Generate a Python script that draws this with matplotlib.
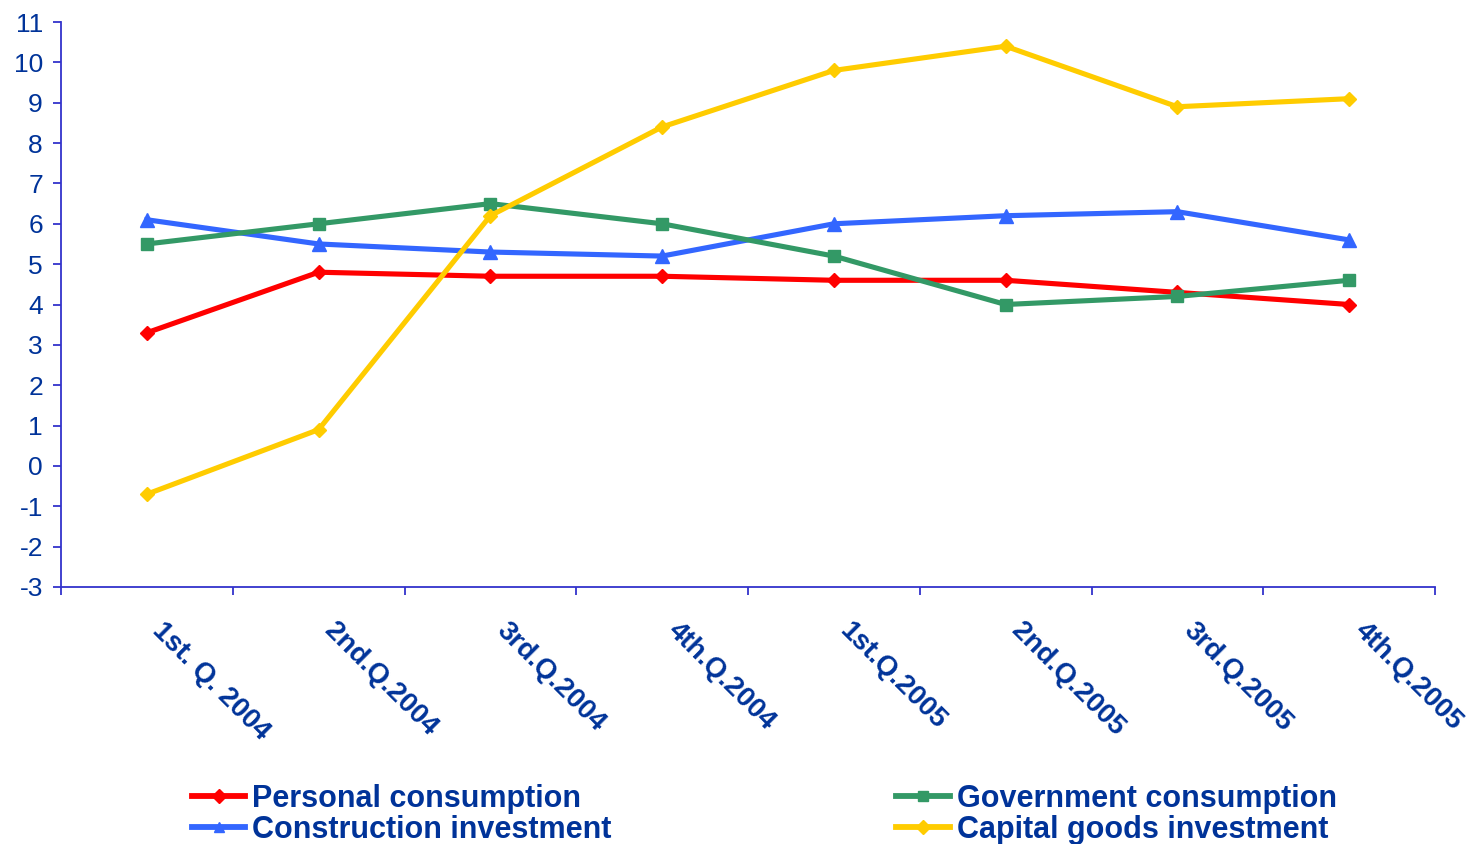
import matplotlib
matplotlib.use("Agg")
import matplotlib.pyplot as plt
import matplotlib.transforms as mtransforms
import numpy as np

categories = ["1st. Q. 2004", "2nd.Q.2004", "3rd.Q.2004", "4th.Q.2004",
              "1st.Q.2005", "2nd.Q.2005", "3rd.Q.2005", "4th.Q.2005"]
personal = [3.3, 4.8, 4.7, 4.7, 4.6, 4.6, 4.3, 4.0]
government = [5.5, 6.0, 6.5, 6.0, 5.2, 4.0, 4.2, 4.6]
construction = [6.1, 5.5, 5.3, 5.2, 6.0, 6.2, 6.3, 5.6]
capital = [-0.7, 0.9, 6.2, 8.4, 9.8, 10.4, 8.9, 9.1]
y_ticks = list(range(-3, 12))

TEXT = "#003399"
AXIS = "#3333CC"

plt.rcParams['font.family'] = ['Liberation Sans', 'DejaVu Sans']

fig = plt.figure(figsize=(14.75, 8.44), dpi=100)
ax = fig.add_axes([61/1475, 1-587/844, (1435-61)/1475, (587-22)/844])

x = np.arange(len(categories))
lw = 3.7
ax.plot(x, personal, color="#FF0000", lw=lw, marker="D", ms=7.5, label="Personal consumption")
ax.plot(x, construction, color="#3366FF", lw=lw, marker="^", ms=10, label="Construction investment")
ax.plot(x, government, color="#339966", lw=lw, marker="s", ms=8, label="Government consumption")
ax.plot(x, capital, color="#FFCC00", lw=lw, marker="D", ms=7.5, label="Capital goods investment")

ax.set_xlim(-0.5, len(categories) - 0.5)
ax.set_ylim(-3, 11)
ax.set_yticks(y_ticks)
ax.set_yticklabels([str(v) for v in y_ticks])

for s in ["top", "right"]:
    ax.spines[s].set_visible(False)
for s in ["left", "bottom"]:
    ax.spines[s].set_color(AXIS)
    ax.spines[s].set_linewidth(1.3)

ax.tick_params(axis="y", colors=AXIS, labelcolor=TEXT, labelsize=19, length=6, width=1.3, pad=7)
ax.set_xticks(np.arange(-0.5, len(categories)), minor=False)
ax.set_xticklabels([])
ax.tick_params(axis="x", which="major", colors=AXIS, length=6, width=1.3, direction="out")
ax.set_xticks(x, minor=True)
ax.set_xticklabels(categories, minor=True, rotation=-45, ha="left", va="top",
                   rotation_mode="anchor", fontsize=20, fontweight="bold", color=TEXT)
ax.tick_params(axis="x", which="minor", length=0, pad=22)
offset = mtransforms.ScaledTranslation(19/100, 0, fig.dpi_scale_trans)
for lab in ax.get_xticklabels(minor=True):
    lab.set_transform(lab.get_transform() + offset)

leg = fig.legend(loc="upper left", bbox_to_anchor=(192/1475, 1-784/844), ncol=2,
                 frameon=False, borderpad=0, borderaxespad=0, handlelength=1.75,
                 handletextpad=0.23, columnspacing=9.3, labelspacing=0.02,
                 prop={"size": 22, "weight": "bold"})
for t in leg.get_texts():
    t.set_color(TEXT)
for h in leg.legend_handles:
    h.set_markersize(7)
    h.set_linewidth(4.2)

fig.savefig("out.png", dpi=100)
